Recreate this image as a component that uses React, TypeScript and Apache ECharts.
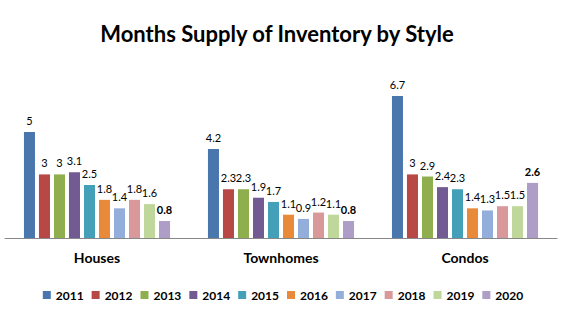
import React, { useEffect, useRef } from "react";
import * as echarts from "echarts";

const categories = ["Houses", "Townhomes", "Condos"];
const years = ["2011", "2012", "2013", "2014", "2015", "2016", "2017", "2018", "2019", "2020"];
const values: number[][] = [
  [5, 4.2, 6.7],
  [3, 2.3, 3],
  [3, 2.3, 2.9],
  [3.1, 1.9, 2.4],
  [2.5, 1.7, 2.3],
  [1.8, 1.1, 1.4],
  [1.4, 0.9, 1.3],
  [1.8, 1.2, 1.5],
  [1.6, 1.1, 1.5],
  [0.8, 0.8, 2.6],
];
const colors = ["#4A76AE", "#B84845", "#8FAE4E", "#725A93", "#43A0B8", "#E98A3A", "#93AEDA", "#D9999A", "#C0D79C", "#AE9DC6"];

export default function App() {
  const ref = useRef<HTMLDivElement>(null);
  useEffect(() => {
    if (!ref.current) return;
    const chart = echarts.init(ref.current, undefined, { renderer: "svg" });
    const font = "Lato, 'Open Sans', sans-serif";
    chart.setOption({
      animation: false,
      color: colors,
      title: {
        text: "Months Supply of Inventory by Style",
        left: 272,
        textAlign: "center",
        top: 17,
        textStyle: { fontFamily: font, fontSize: 22, fontWeight: "bold", color: "#000" },
      },
      legend: {
        data: years,
        top: 284,
        left: "center",
        itemWidth: 8,
        itemHeight: 8,
        itemGap: 8,
        icon: "rect",
        textStyle: { fontFamily: font, fontSize: 12, fontWeight: "bold", color: "#000" },
      },
      grid: { left: 5, right: 9, top: 89.6, bottom: 317 - 238 },
      xAxis: {
        type: "category",
        data: categories,
        axisLine: { lineStyle: { color: "#888", width: 1 } },
        axisTick: { show: false },
        axisLabel: { fontFamily: font, fontSize: 14, fontWeight: "bold", color: "#000", margin: 12 },
      },
      yAxis: { type: "value", min: 0, max: 7, show: false, splitLine: { show: false } },
      series: years.map((y, i) => ({
        name: y,
        type: "bar",
        data: values[i],
        barGap: "36%",
        barCategoryGap: "20.6%",
        label: {
          show: true,
          position: "top",
          distance: 6,
          fontFamily: font,
          fontSize: 11,
          fontWeight: i === 9 ? "bold" : "normal",
          color: "#000",
        },
      })),
    });
    return () => chart.dispose();
  }, []);
  return <div ref={ref} style={{ width: 566, height: 317, position: "absolute", left: 0, top: 0, background: "#fff" }} />;
}
